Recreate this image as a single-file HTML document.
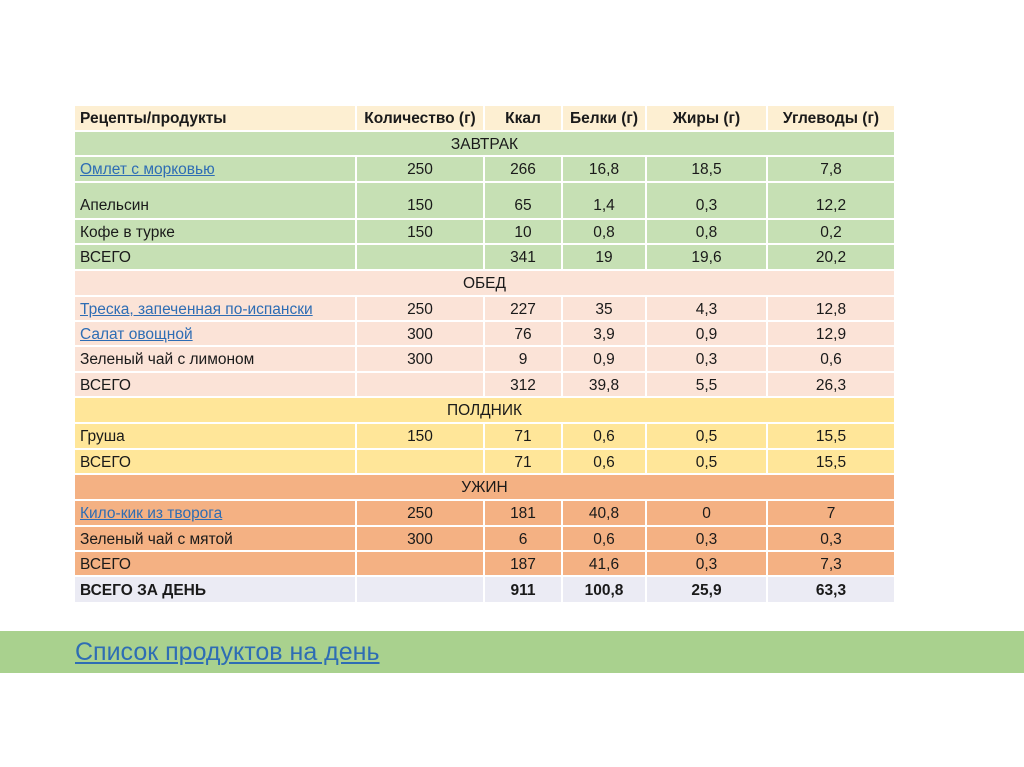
<!DOCTYPE html>
<html><head><meta charset="utf-8"><style>
body{margin:0;width:1024px;height:767px;background:#fff;position:relative;overflow:hidden;font-family:"Liberation Sans","Noto Sans CJK SC",sans-serif;}
.c{position:absolute;box-sizing:border-box;font-size:15.5px;color:#1a1a1a;display:flex;align-items:center;justify-content:center;white-space:nowrap;padding-top:2px;}
.l{justify-content:flex-start;padding-left:5px;}
.lnk{color:#2e6db4;text-decoration:underline;}
#band{position:absolute;left:0;top:631px;width:1024px;height:42px;background:#a9d18e;}
#bandlink{position:absolute;left:75px;top:638px;font-size:25px;color:#2e6db4;text-decoration:underline;}
</style></head><body>
<div id="tbl"></div>
<div id="band"></div>
<a id="bandlink">Список продуктов на день</a>
<script>
const colX=[75,357,485,563,647,768,894];
const headers=["Рецепты/продукты","Количество (г)","Ккал","Белки (г)","Жиры (г)","Углеводы (г)"];
const colors={h:"#fdefd2",g:"#c6e0b4",p:"#fbe3d7",y:"#ffe699",o:"#f4b183",t:"#ebebf4"};
const rows=[
["hdr","h",106,26,headers],
["sec","g",132,25,["ЗАВТРАК"]],
["row","g",157,26,["Омлет с морковью","250","266","16,8","18,5","7,8"],1],
["row","g",183,37,["Апельсин","150","65","1,4","0,3","12,2"]],
["row","g",220,25,["Кофе в турке","150","10","0,8","0,8","0,2"]],
["row","g",245,26,["ВСЕГО","","341","19","19,6","20,2"]],
["sec","p",271,26,["ОБЕД"]],
["row","p",297,25,["Треска, запеченная по-испански","250","227","35","4,3","12,8"],1],
["row","p",322,25,["Салат овощной","300","76","3,9","0,9","12,9"],1],
["row","p",347,26,["Зеленый чай с лимоном","300","9","0,9","0,3","0,6"]],
["row","p",373,25,["ВСЕГО","","312","39,8","5,5","26,3"]],
["sec","y",398,26,["ПОЛДНИК"]],
["row","y",424,26,["Груша","150","71","0,6","0,5","15,5"]],
["row","y",450,25,["ВСЕГО","","71","0,6","0,5","15,5"]],
["sec","o",475,26,["УЖИН"]],
["row","o",501,26,["Кило-кик из творога","250","181","40,8","0","7"],1],
["row","o",527,25,["Зеленый чай с мятой","300","6","0,6","0,3","0,3"]],
["row","o",552,25,["ВСЕГО","","187","41,6","0,3","7,3"]],
["tot","t",577,27,["ВСЕГО ЗА ДЕНЬ","","911","100,8","25,9","63,3"]]
];
const tbl=document.getElementById('tbl');
rows.forEach((r,ri)=>{
  const [type,col,top,h,cells,link]=r;
  if(type==="sec"){
    const d=document.createElement('div');
    d.className='c';
    
    
    d.style.cssText=`left:${colX[0]}px;top:${top}px;width:${colX[6]-colX[0]}px;height:${h}px;background:${colors[col]};border-bottom:2px solid #fff;`;
    d.textContent=cells[0];
    tbl.appendChild(d);
    return;
  }
  cells.forEach((t,ci)=>{
    const d=document.createElement('div');
    d.className='c'+(ci===0?' l':'');
    
    
    d.style.cssText=`left:${colX[ci]}px;top:${top}px;width:${colX[ci+1]-colX[ci]}px;height:${h}px;background:${colors[col]};border-right:${ci<5?'2px solid #fff':'none'};border-bottom:2px solid #fff;`;
    if(type==="hdr"||type==="tot")d.style.fontWeight="bold";
    if(type==="row"&&ri===3){d.style.alignItems="flex-end";d.style.paddingBottom="3px";}
    if(link&&ci===0){const s=document.createElement('span');s.className='lnk';s.textContent=t;d.appendChild(s);}
    else d.textContent=t;
    tbl.appendChild(d);
  });
});
</script>
</body></html>
